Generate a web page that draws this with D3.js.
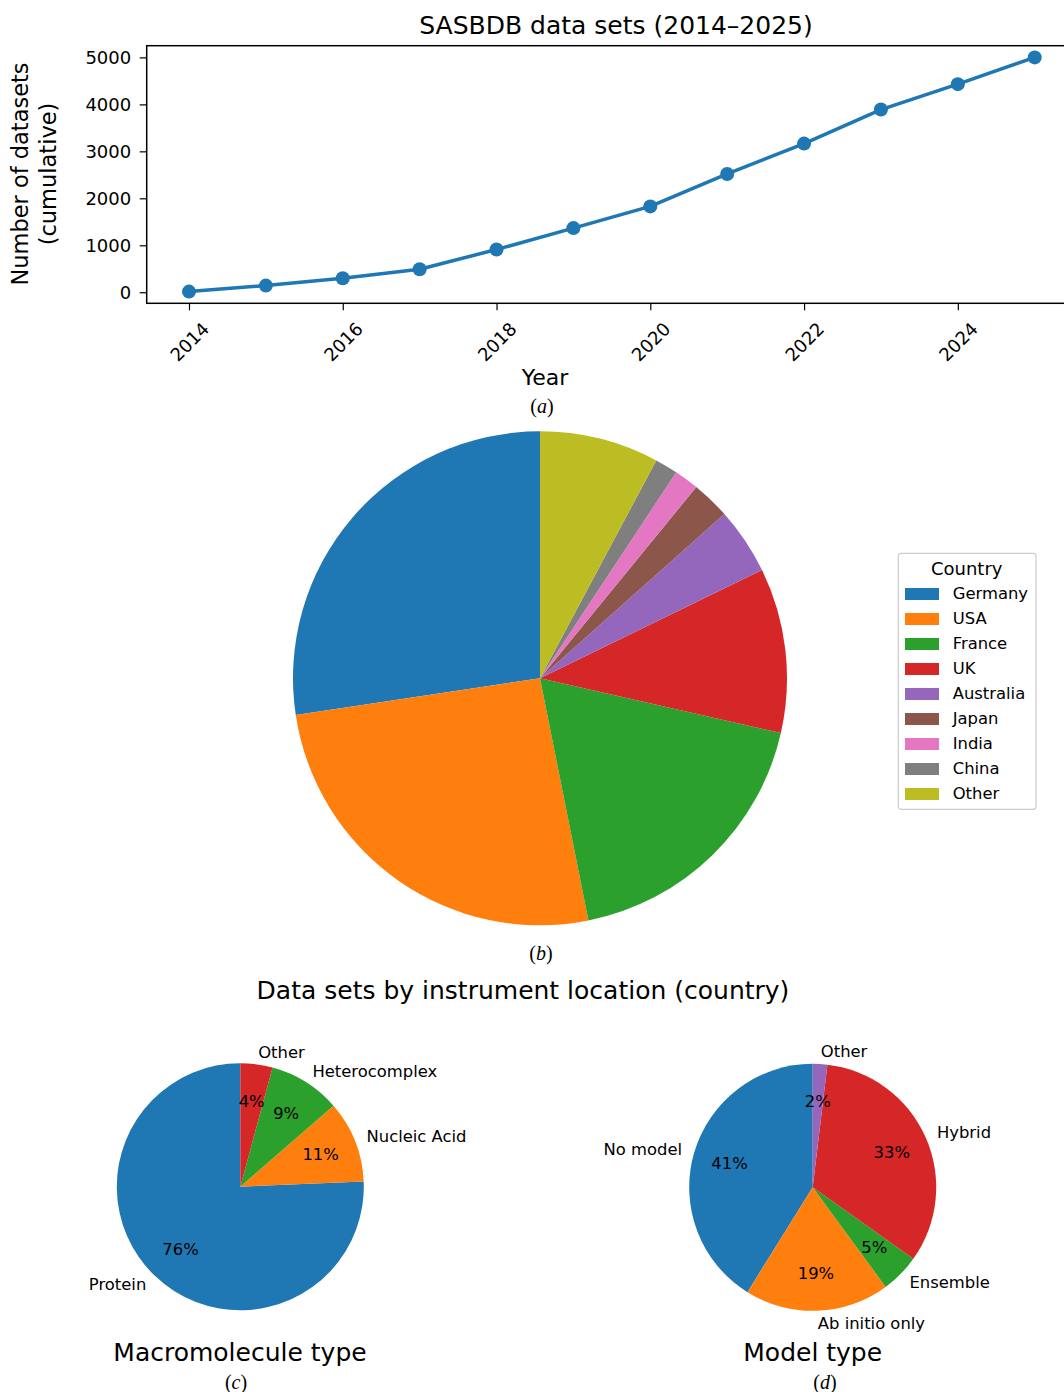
<!DOCTYPE html>
<html>
<head>
<meta charset="utf-8">
<script src="https://cdn.jsdelivr.net/npm/d3@7"></script>
<style>
  body { margin: 0; background: #fff; }
  svg { display: block; font-family: "DejaVu Sans", sans-serif; }
</style>
</head>
<body>
<svg id="chart" width="1064" height="1392"></svg>
<script>
// ---- data ----
const years = [2014, 2015, 2016, 2017, 2018, 2019, 2020, 2021, 2022, 2023, 2024, 2025];
const cumulative = [14, 142, 299, 491, 910, 1366, 1828, 2518, 3165, 3890, 4431, 5000];
const yearTicks = [2014, 2016, 2018, 2020, 2022, 2024];
const countTicks = [0, 1000, 2000, 3000, 4000, 5000];

const countries = ["Germany", "USA", "France", "UK", "Australia", "Japan", "India", "China", "Other"];
const countryShare = [27.37, 25.76, 18.3, 10.77, 4.37, 2.51, 1.6, 1.5, 7.8];

const moleculeTypes = ["Protein", "Nucleic Acid", "Heterocomplex", "Other"];
const moleculeShare = [75.6, 10.7, 9.4, 4.2];

const modelTypes = ["No model", "Ab initio only", "Ensemble", "Hybrid", "Other"];
const modelShare = [41.1, 18.9, 5.1, 32.9, 1.9];

const tab10 = ["#1f77b4", "#ff7f0e", "#2ca02c", "#d62728", "#9467bd",
               "#8c564b", "#e377c2", "#7f7f7f", "#bcbd22", "#17becf"];

const svg = d3.select("#chart");
svg.append("rect").attr("width", 1064).attr("height", 1392).attr("fill", "#fff");

// mathtext-like caption: upright parens, italic letter
function caption(x, y, letter) {
  const t = svg.append("text")
    .attr("x", x).attr("y", y)
    .attr("text-anchor", "middle")
    .attr("dominant-baseline", "central")
    .style("font-family", "'Liberation Serif', serif")
    .style("font-size", "20px");
  t.append("tspan").text("(");
  t.append("tspan").style("font-style", "italic").text(letter);
  t.append("tspan").text(")");
}

// ---- (a) line chart ----
const axLeft = 146.7, axRight = 1077, axTop = 45.7, axBottom = 303.3;
const yPad = (d3.max(cumulative) - d3.min(cumulative)) * 0.05;
const x = d3.scaleLinear().domain([2014 - 0.55, 2025 + 0.55]).range([axLeft, axRight]);
const y = d3.scaleLinear().domain([d3.min(cumulative) - yPad, d3.max(cumulative) + yPad]).range([axBottom, axTop]);

const gx = svg.append("g")
  .attr("transform", `translate(0,${axBottom})`)
  .call(d3.axisBottom(x).tickValues(yearTicks).tickFormat(d3.format("d")).tickSize(7));
gx.select(".domain").remove();
gx.selectAll("line").attr("stroke", "#000").attr("stroke-width", 1.2);
gx.selectAll("text")
  .attr("y", null).attr("dy", null)
  .attr("fill", "#000")
  .style("font-size", "18px")
  .style("font-family", "'DejaVu Sans'")
  .attr("text-anchor", "middle")
  .attr("dominant-baseline", "central")
  .attr("transform", "translate(0,38.4) rotate(-45)");

const gy = svg.append("g")
  .attr("transform", `translate(${axLeft},0)`)
  .call(d3.axisLeft(y).tickValues(countTicks).tickFormat(d3.format("d")).tickSize(7).tickPadding(8.5));
gy.select(".domain").remove();
gy.selectAll("line").attr("stroke", "#000").attr("stroke-width", 1.2);
gy.selectAll("text")
  .attr("fill", "#000")
  .style("font-size", "18px")
  .style("font-family", "'DejaVu Sans'");

const line = d3.line().x((d, i) => x(years[i])).y(d => y(d));
svg.append("path")
  .datum(cumulative)
  .attr("d", line)
  .attr("fill", "none")
  .attr("stroke", tab10[0])
  .attr("stroke-width", 3.5)
  .attr("stroke-linejoin", "round");
svg.selectAll(".dot").data(cumulative).join("circle")
  .attr("class", "dot")
  .attr("cx", (d, i) => x(years[i]))
  .attr("cy", d => y(d))
  .attr("r", 7)
  .attr("fill", tab10[0]);

svg.append("rect")
  .attr("x", axLeft).attr("y", axTop)
  .attr("width", axRight - axLeft).attr("height", axBottom - axTop)
  .attr("fill", "none").attr("stroke", "#000").attr("stroke-width", 1.5);

svg.append("text").attr("x", 616).attr("y", 25)
  .attr("text-anchor", "middle").attr("dominant-baseline", "central")
  .style("font-size", "25px").text("SASBDB data sets (2014–2025)");
svg.append("text").attr("x", 545).attr("y", 377)
  .attr("text-anchor", "middle").attr("dominant-baseline", "central")
  .style("font-size", "22px").text("Year");
svg.append("text")
  .attr("transform", "translate(20,174) rotate(-90)")
  .attr("text-anchor", "middle").attr("dominant-baseline", "central")
  .style("font-size", "22.5px").text("Number of datasets");
svg.append("text")
  .attr("transform", "translate(48,174) rotate(-90)")
  .attr("text-anchor", "middle").attr("dominant-baseline", "central")
  .style("font-size", "22.5px").text("(cumulative)");
caption(542, 406, "a");

// ---- pies ----
// matplotlib style: start at 12 o'clock, counter-clockwise
function drawPie(cx, cy, r, labels, values, opts) {
  const g = svg.append("g").attr("transform", `translate(${cx},${cy})`);
  const arcs = d3.pie().sort(null).startAngle(0).endAngle(-2 * Math.PI)(values);
  const arc = d3.arc().innerRadius(0).outerRadius(r);
  const total = d3.sum(values);
  g.selectAll("path").data(arcs).join("path")
    .attr("d", arc)
    .attr("fill", (d, i) => tab10[i]);
  if (!opts.labels) return;
  arcs.forEach((d, i) => {
    const a = (d.startAngle + d.endAngle) / 2;
    const sx = Math.sin(a), sy = -Math.cos(a);
    g.append("text")
      .attr("x", 1.1 * r * sx).attr("y", 1.1 * r * sy)
      .attr("text-anchor", sx > 0 ? "start" : "end")
      .attr("dominant-baseline", "central")
      .style("font-size", "16.4px")
      .text(labels[i]);
    g.append("text")
      .attr("x", 0.7 * r * sx).attr("y", 0.7 * r * sy)
      .attr("text-anchor", "middle")
      .attr("dominant-baseline", "central")
      .style("font-size", "16.4px")
      .text(Math.round(values[i] / total * 100) + "%");
  });
}

// (b) country pie
drawPie(540, 678.3, 247, countries, countryShare, { labels: false });
caption(541, 953, "b");
svg.append("text").attr("x", 523).attr("y", 990)
  .attr("text-anchor", "middle").attr("dominant-baseline", "central")
  .style("font-size", "25px").text("Data sets by instrument location (country)");

// legend
const lg = svg.append("g").attr("transform", "translate(898.3,553.3)");
lg.append("rect").attr("width", 137.7).attr("height", 256).attr("rx", 3)
  .attr("fill", "#fff").attr("fill-opacity", 0.8)
  .attr("stroke", "#cccccc").attr("stroke-width", 1.2);
lg.append("text").attr("x", 68.4).attr("y", 15.7)
  .attr("text-anchor", "middle").attr("dominant-baseline", "central")
  .style("font-size", "18px").text("Country");
countries.forEach((c, i) => {
  const ry = 40.7 + i * 25;
  lg.append("rect").attr("x", 6.7).attr("y", ry - 6).attr("width", 34).attr("height", 12)
    .attr("fill", tab10[i]);
  lg.append("text").attr("x", 54.4).attr("y", ry)
    .attr("dominant-baseline", "central")
    .style("font-size", "16.4px").text(c);
});

// (c) macromolecule pie
drawPie(240.3, 1186.7, 123.5, moleculeTypes, moleculeShare, { labels: true });
svg.append("text").attr("x", 240).attr("y", 1352)
  .attr("text-anchor", "middle").attr("dominant-baseline", "central")
  .style("font-size", "25px").text("Macromolecule type");
caption(236, 1382, "c");

// (d) model type pie
drawPie(812.7, 1187.3, 123.5, modelTypes, modelShare, { labels: true });
svg.append("text").attr("x", 812.7).attr("y", 1352)
  .attr("text-anchor", "middle").attr("dominant-baseline", "central")
  .style("font-size", "25px").text("Model type");
caption(825, 1382, "d");
</script>
</body>
</html>
